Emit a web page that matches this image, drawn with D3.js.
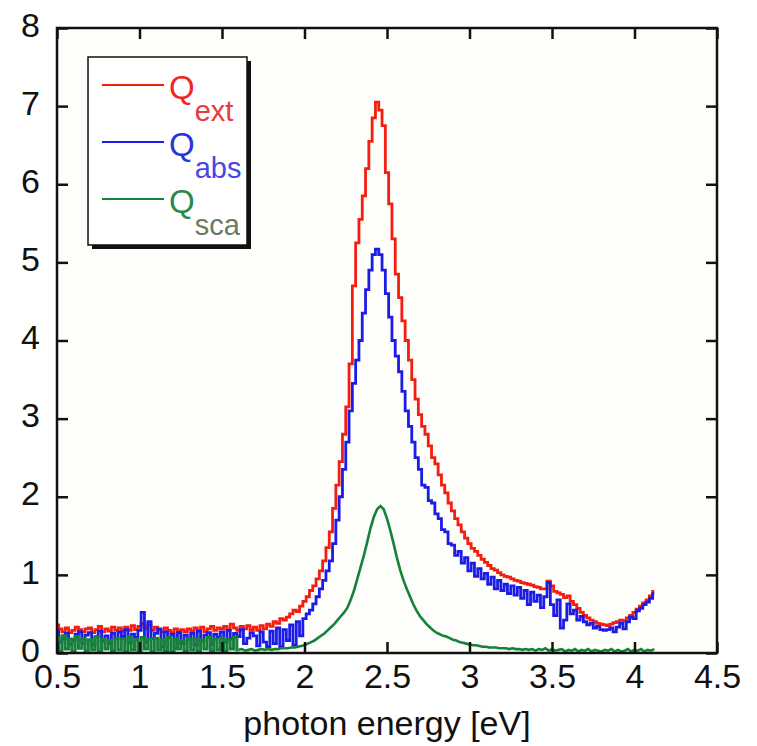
<!DOCTYPE html>
<html>
<head>
<meta charset="utf-8">
<script src="https://cdn.jsdelivr.net/npm/d3@7"></script>
<style>
  body { margin: 0; background: #fff; }
  svg { display: block; font-family: "Liberation Sans", Arial, sans-serif; }
  .axis text { font-size: 34px; fill: #111; }
  .axis line { stroke: #111; stroke-width: 2.5; }
</style>
</head>
<body>
<div id="chartWrap"></div>
<script>
'use strict'

// photon energy grid [eV]
const energy = [
    0.50, 0.52, 0.54, 0.56, 0.58, 0.60, 0.62, 0.64, 0.66, 0.68,
    0.70, 0.72, 0.74, 0.76, 0.78, 0.80, 0.82, 0.84, 0.86, 0.88,
    0.90, 0.92, 0.94, 0.96, 0.98, 1.00, 1.02, 1.04, 1.06, 1.08,
    1.10, 1.12, 1.14, 1.16, 1.18, 1.20, 1.22, 1.24, 1.26, 1.28,
    1.30, 1.32, 1.34, 1.36, 1.38, 1.40, 1.42, 1.44, 1.46, 1.48,
    1.50, 1.52, 1.54, 1.56, 1.58, 1.60, 1.62, 1.64, 1.66, 1.68,
    1.70, 1.72, 1.74, 1.76, 1.78, 1.80, 1.82, 1.84, 1.86, 1.88,
    1.90, 1.92, 1.94, 1.96, 1.98, 2.00, 2.02, 2.04, 2.06, 2.08,
    2.10, 2.12, 2.14, 2.16, 2.18, 2.20, 2.22, 2.24, 2.26, 2.28,
    2.30, 2.32, 2.34, 2.36, 2.38, 2.40, 2.42, 2.44, 2.46, 2.48,
    2.50, 2.52, 2.54, 2.56, 2.58, 2.60, 2.62, 2.64, 2.66, 2.68,
    2.70, 2.72, 2.74, 2.76, 2.78, 2.80, 2.82, 2.84, 2.86, 2.88,
    2.90, 2.92, 2.94, 2.96, 2.98, 3.00, 3.02, 3.04, 3.06, 3.08,
    3.10, 3.12, 3.14, 3.16, 3.18, 3.20, 3.22, 3.24, 3.26, 3.28,
    3.30, 3.32, 3.34, 3.36, 3.38, 3.40, 3.42, 3.44, 3.46, 3.48,
    3.50, 3.52, 3.54, 3.56, 3.58, 3.60, 3.62, 3.64, 3.66, 3.68,
    3.70, 3.72, 3.74, 3.76, 3.78, 3.80, 3.82, 3.84, 3.86, 3.88,
    3.90, 3.92, 3.94, 3.96, 3.98, 4.00, 4.02, 4.04, 4.06, 4.08,
    4.10, 4.12
];

const qExt = [
    0.36, 0.31, 0.27, 0.32, 0.26, 0.29, 0.33, 0.30, 0.27, 0.31,
    0.32, 0.26, 0.30, 0.34, 0.27, 0.31, 0.28, 0.33, 0.29, 0.32,
    0.28, 0.33, 0.29, 0.35, 0.30, 0.34, 0.38, 0.31, 0.36, 0.29,
    0.33, 0.30, 0.27, 0.32, 0.29, 0.26, 0.31, 0.28, 0.30, 0.27,
    0.31, 0.28, 0.32, 0.29, 0.33, 0.27, 0.31, 0.34, 0.29, 0.32,
    0.31, 0.34, 0.30, 0.37, 0.32, 0.29, 0.34, 0.31, 0.35, 0.30,
    0.33, 0.29, 0.35, 0.31, 0.37, 0.34, 0.40, 0.38, 0.44, 0.42,
    0.46, 0.50, 0.55, 0.53, 0.60, 0.66, 0.72, 0.80, 0.86, 0.95,
    1.05, 1.18, 1.35, 1.55, 1.85, 2.15, 2.45, 2.80, 3.15, 3.70,
    4.70, 5.25, 5.55, 5.85, 6.20, 6.55, 6.85, 7.05, 6.95, 6.75,
    6.15, 5.75, 5.30, 4.85, 4.55, 4.25, 4.00, 3.75, 3.50, 3.25,
    3.05, 2.90, 2.80, 2.65, 2.50, 2.42, 2.28, 2.15, 2.05, 1.92,
    1.82, 1.72, 1.64, 1.55, 1.47, 1.40, 1.34, 1.30, 1.25, 1.20,
    1.16, 1.12, 1.08, 1.06, 1.03, 1.00, 0.98, 0.97, 0.95, 0.93,
    0.92, 0.90, 0.89, 0.88, 0.87, 0.85, 0.84, 0.82, 0.82, 0.92,
    0.86, 0.79, 0.77, 0.75, 0.71, 0.73, 0.66, 0.62, 0.57, 0.52,
    0.48, 0.45, 0.42, 0.40, 0.38, 0.37, 0.36, 0.35, 0.37, 0.39,
    0.40, 0.42, 0.41, 0.45, 0.48, 0.52, 0.56, 0.60, 0.64, 0.68,
    0.73, 0.79
];

const qAbs = [
    0.28, 0.14, 0.18, 0.25, 0.11, 0.16, 0.24, 0.27, 0.12, 0.23,
    0.26, 0.10, 0.21, 0.28, 0.15, 0.22, 0.12, 0.25, 0.18, 0.27,
    0.21, 0.30, 0.13, 0.24, 0.20, 0.29, 0.52, 0.14, 0.40, 0.18,
    0.25, 0.31, 0.08, 0.27, 0.20, 0.24, 0.06, 0.26, 0.12, 0.23,
    0.17, 0.25, 0.10, 0.28, 0.16, 0.23, 0.26, 0.11, 0.24, 0.20,
    0.27, 0.14, 0.29, 0.18, 0.25, 0.21, 0.30, 0.12, 0.19, 0.26,
    0.22, 0.09, 0.27, 0.14, 0.08, 0.28, 0.12, 0.32, 0.08, 0.30,
    0.16, 0.36, 0.10, 0.40, 0.22, 0.44, 0.50, 0.55, 0.63, 0.72,
    0.82, 0.93, 1.05, 1.18, 1.40, 1.70, 2.00, 2.35, 2.70, 3.10,
    3.45, 3.75, 4.00, 4.35, 4.65, 4.90, 5.10, 5.17, 5.10, 4.90,
    4.60, 4.30, 4.00, 3.80, 3.60, 3.35, 3.10, 2.90, 2.70, 2.50,
    2.35, 2.15, 2.12, 1.95, 1.92, 1.78, 1.72, 1.58, 1.55, 1.40,
    1.38, 1.25, 1.30, 1.15, 1.22, 1.05, 1.15, 0.98, 1.08, 0.95,
    1.02, 0.88, 0.97, 0.82, 0.93, 0.80, 0.88, 0.76, 0.86, 0.74,
    0.84, 0.70, 0.80, 0.62, 0.78, 0.66, 0.74, 0.58, 0.72, 0.90,
    0.62, 0.48, 0.68, 0.32, 0.42, 0.63, 0.50, 0.55, 0.42, 0.47,
    0.40, 0.36, 0.38, 0.32, 0.34, 0.30, 0.29, 0.30, 0.32, 0.27,
    0.33, 0.38, 0.31, 0.40, 0.46, 0.44, 0.54, 0.57, 0.62, 0.65,
    0.70, 0.76
];

const qSca = [
    0.20, 0.03, 0.22, 0.05, 0.18, 0.02, 0.21, 0.06, 0.19, 0.03,
    0.17, 0.04, 0.20, 0.02, 0.18, 0.05, 0.16, 0.03, 0.19, 0.04,
    0.18, 0.02, 0.21, 0.04, 0.17, 0.03, 0.20, 0.05, 0.18, 0.02,
    0.19, 0.04, 0.17, 0.03, 0.20, 0.02, 0.18, 0.05, 0.16, 0.03,
    0.18, 0.04, 0.19, 0.02, 0.17, 0.05, 0.20, 0.03, 0.18, 0.04,
    0.19, 0.03, 0.17, 0.05, 0.20, 0.04, 0.05, 0.03, 0.04, 0.05,
    0.03, 0.04, 0.05, 0.04, 0.05, 0.04, 0.05, 0.05, 0.06, 0.06,
    0.06, 0.07, 0.07, 0.08, 0.09, 0.10, 0.12, 0.14, 0.16, 0.19,
    0.22, 0.25, 0.29, 0.33, 0.37, 0.42, 0.47, 0.52, 0.58, 0.68,
    0.80, 0.95, 1.10, 1.25, 1.42, 1.60, 1.74, 1.84, 1.88, 1.84,
    1.72, 1.57, 1.40, 1.22, 1.06, 0.93, 0.82, 0.72, 0.62, 0.54,
    0.47, 0.42, 0.37, 0.33, 0.29, 0.26, 0.24, 0.22, 0.21, 0.19,
    0.17, 0.16, 0.14, 0.13, 0.12, 0.11, 0.10, 0.10, 0.09, 0.08,
    0.08, 0.07, 0.07, 0.07, 0.06, 0.06, 0.06, 0.05, 0.06, 0.05,
    0.05, 0.04, 0.05, 0.04, 0.05, 0.03, 0.05, 0.04, 0.06, 0.03,
    0.05, 0.03, 0.04, 0.05, 0.02, 0.04, 0.03, 0.05, 0.02, 0.04,
    0.03, 0.05, 0.02, 0.04, 0.03, 0.02, 0.04, 0.03, 0.05, 0.02,
    0.04, 0.02, 0.03, 0.05, 0.02, 0.04, 0.03, 0.05, 0.02, 0.04,
    0.03, 0.05
];

const xTicks = [0.5, 1, 1.5, 2, 2.5, 3, 3.5, 4, 4.5];
const yTicks = [0, 1, 2, 3, 4, 5, 6, 7, 8];
const seriesNames = ['ext', 'abs', 'sca'];
// below this energy the scattering trace is pure detector noise
const scaNoiseEnd = 1.6;

//#region Chart settings
let svgWidth = 757,
    svgHeight = 746,
    margin = { top: 28, right: 40, bottom: 93, left: 57 },
    chartWidth = svgWidth - margin.left - margin.right,
    chartHeight = svgHeight - margin.top - margin.bottom;

const lineColor = { ext: '#f41d10', abs: '#1c1ce6', sca: '#17803a' };
const qColor = { ext: '#ec2a22', abs: '#2a34dc', sca: '#2a8a4c' };
const subColor = { ext: '#e83a3a', abs: '#4a46e4', sca: '#6c7a62' };
//#endregion

let svg = d3.select('#chartWrap')
    .append('svg')
    .attr('width', svgWidth)
    .attr('height', svgHeight);

let main = svg.append('g')
    .attr('transform', `translate(${margin.left},${margin.top})`);

main.append('rect')
    .attr('width', chartWidth)
    .attr('height', chartHeight)
    .attr('fill', '#fdfdf9');

const xScale = d3.scaleLinear().domain([0.5, 4.5]).range([0, chartWidth]);
const yScale = d3.scaleLinear().domain([0, 8]).range([chartHeight, 0]);

//#region Curves
const rows = energy.map((e, i) => ({ e, ext: qExt[i], abs: qAbs[i], sca: qSca[i] }));

main.append('clipPath').attr('id', 'plot-clip')
    .append('rect').attr('width', chartWidth).attr('height', chartHeight);

const curves = main.append('g').attr('clip-path', 'url(#plot-clip)');

const drawTrace = (data, key, curve, width) => {
    const line = d3.line()
        .x(d => xScale(d.e))
        .y(d => yScale(d[key]))
        .curve(curve);
    curves.append('path')
        .datum(data)
        .attr('d', line)
        .attr('fill', 'none')
        .attr('stroke', lineColor[key])
        .attr('stroke-width', width)
        .attr('stroke-linejoin', 'miter');
}

drawTrace(rows, 'ext', d3.curveStep, 2.8);
drawTrace(rows, 'abs', d3.curveStep, 2.8);
// noisy low-energy part drawn as steps, smooth resonance as a plain line
drawTrace(rows.filter(d => d.e <= scaNoiseEnd), 'sca', d3.curveStep, 3);
drawTrace(rows.filter(d => d.e >= scaNoiseEnd), 'sca', d3.curveLinear, 2.6);
//#endregion

//#region Axes (ticks point inward, MATLAB style)
const fmt = d => String(d);
const tickLen = 11;

main.append('g')
    .attr('class', 'axis')
    .attr('transform', `translate(0,${chartHeight})`)
    .call(d3.axisBottom(xScale).tickValues(xTicks).tickFormat(fmt)
        .tickSizeInner(-tickLen).tickSizeOuter(0).tickPadding(11))
    .call(g => g.select('.domain').remove());

main.append('g')
    .attr('class', 'axis')
    .call(d3.axisTop(xScale).tickValues(xTicks).tickFormat('')
        .tickSizeInner(-tickLen).tickSizeOuter(0))
    .call(g => g.select('.domain').remove());

main.append('g')
    .attr('class', 'axis')
    .call(d3.axisLeft(yScale).tickValues(yTicks).tickFormat(fmt)
        .tickSizeInner(-tickLen).tickSizeOuter(0).tickPadding(17))
    .call(g => g.select('.domain').remove())
    .call(g => g.selectAll('text').attr('dy', '0.24em'));

main.append('g')
    .attr('class', 'axis')
    .attr('transform', `translate(${chartWidth},0)`)
    .call(d3.axisRight(yScale).tickValues(yTicks).tickFormat('')
        .tickSizeInner(-tickLen).tickSizeOuter(0))
    .call(g => g.select('.domain').remove());

main.append('rect')
    .attr('width', chartWidth)
    .attr('height', chartHeight)
    .attr('fill', 'none')
    .attr('stroke', '#111')
    .attr('stroke-width', 2.5);

main.append('text')
    .attr('x', chartWidth / 2)
    .attr('y', chartHeight + 82)
    .attr('text-anchor', 'middle')
    .attr('font-size', 34)
    .attr('fill', '#111')
    .text('photon energy [eV]');
//#endregion

//#region Legend
const legend = main.append('g')
    .attr('transform', `translate(${88 - margin.left},${57 - margin.top})`);

legend.append('rect')
    .attr('x', 4).attr('y', 4)
    .attr('width', 159).attr('height', 188)
    .attr('fill', '#111');

legend.append('rect')
    .attr('width', 159).attr('height', 188)
    .attr('fill', '#fff')
    .attr('stroke', '#111')
    .attr('stroke-width', 1.5);

const items = legend.selectAll('g.item')
    .data(seriesNames)
    .join('g')
    .attr('class', 'item')
    .attr('transform', (d, i) => `translate(0,${28 + i * 57})`);

items.append('line')
    .attr('x1', 14).attr('x2', 76)
    .attr('stroke', d => lineColor[d])
    .attr('stroke-width', 1.8);

const label = items.append('text')
    .attr('x', 81)
    .attr('y', 14)
    .attr('font-size', 33);

label.append('tspan')
    .attr('fill', d => qColor[d])
    .text('Q');

label.append('tspan')
    .attr('dy', 22)
    .attr('font-size', 29)
    .attr('fill', d => subColor[d])
    .text(d => d);
//#endregion
</script>
</body>
</html>
